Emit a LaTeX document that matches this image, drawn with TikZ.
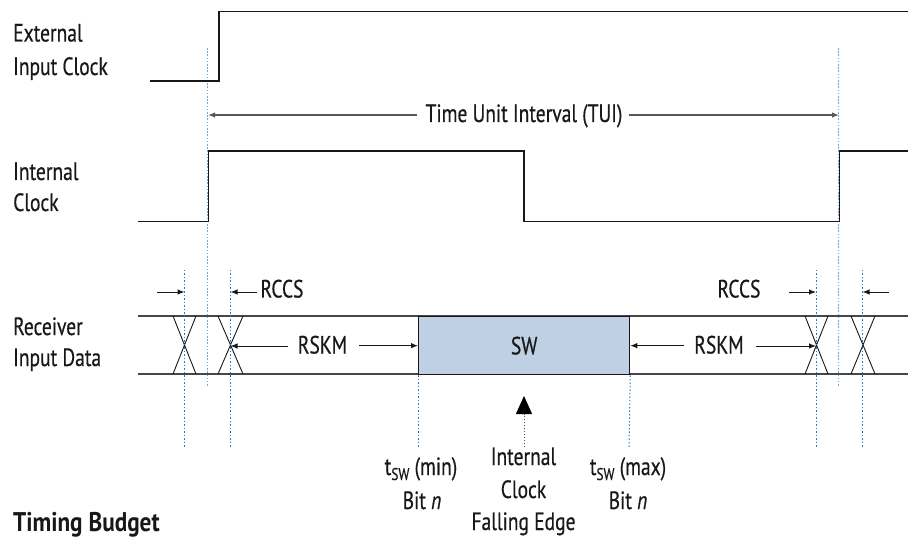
\documentclass[tikz,border=0pt]{standalone}
\usepackage{fontspec}
\setmainfont[FakeStretch=0.78,FakeBold=0.5]{PT Sans}
\newfontfamily\tbfont[FakeStretch=0.86]{PT Sans}
\usetikzlibrary{arrows.meta}
\definecolor{swfill}{HTML}{BFCFE4}
\definecolor{lblue}{HTML}{6FA8D0}
\definecolor{dblue}{HTML}{2F78BE}
\definecolor{ink}{HTML}{1A1718}
\newcommand{\tsw}{t\raisebox{-5pt}{\fontsize{17}{17}\selectfont SW}}
\begin{document}
\begin{tikzpicture}[x=1pt,y=-1pt,
  lbl/.style={font=\fontsize{25}{30}\selectfont, inner sep=0pt, text=ink},
  side/.style={lbl, anchor=base west},
  sig/.style={draw=ink, line width=1.3pt},
  bus/.style={draw=black!72, line width=1.3pt},
  cross/.style={draw=ink, line width=0.9pt},
  tuiguide/.style={draw=lblue, line width=1.6pt, dash pattern=on 1.6pt off 1.6pt},
  edgeguide/.style={draw=dblue, line width=1pt, dash pattern=on 1.5pt off 2pt},
  dimarrow/.style={-{Latex[length=7pt,width=5.5pt]}, line width=1pt, draw=ink},
  tuiarrow/.style={-{Latex[length=7pt,width=5.5pt]}, line width=1.3pt, draw=black!65},
]
\useasboundingbox (0,0) rectangle (908,540);

% ---------- left labels ----------
\node[side] (ext1) at (13,41.5) {External};
\node[side] (ext2) at (13,75) {Input Clock};
\node[side] (int1) at (13,180) {Internal};
\node[side] (int2) at (13,211) {Clock};
\node[side] (rcv1) at (13,335) {Receiver};
\node[side] (rcv2) at (13,366) {Input Data};
\node[side, font=\tbfont\fontsize{27}{30}\selectfont\bfseries] (tb) at (13,531) {Timing Budget};

% ---------- TUI guides ----------
\coordinate (tuiL) at (208,115);
\coordinate (tuiR) at (839,115);
\draw[tuiguide] (207.5,48) -- (207.5,386);
\draw[tuiguide] (838.5,48) -- (838.5,386);

% ---------- clocks ----------
\draw[sig] (150,81) -- (219,81) -- (219,11.5) -- (908,11.5);
\draw[sig] (138,221.5) -- (208.5,221.5) -- (208.5,151) -- (524,151) -- (524,221.5)
           -- (839.5,221.5) -- (839.5,151) -- (908,151);

\node[lbl, anchor=base] (tui) at (524,122) {Time Unit Interval (TUI)};
\draw[tuiarrow] ([xshift=-8pt]tui.west |- tuiL) -- (tuiL);
\draw[tuiarrow] ([xshift=6pt]tui.east |- tuiR) -- (tuiR);

% ---------- data bus ----------
\draw[bus] (138,316) -- (908,316);
\draw[bus] (138,374) -- (908,374);

\draw[cross] (173,316) -- (196,374) (196,316) -- (173,374);
\draw[cross] (218,316) -- (243,374) (243,316) -- (218,374);
\draw[cross] (805,316) -- (828,374) (828,316) -- (805,374);
\draw[cross] (851,316) -- (875,374) (875,316) -- (851,374);

\coordinate (c1) at (184.5,346);
\coordinate (c2) at (230.5,346);
\coordinate (c3) at (816,346);
\coordinate (c4) at (862.5,346);

\node[lbl, draw=ink, line width=1.3pt, fill=swfill, minimum width=211pt,
      minimum height=58pt, anchor=north west] (sw) at (418,316) {SW};

% ---------- edge guides ----------
\draw[edgeguide] (184.5,270) -- (184.5,447);
\draw[edgeguide] (230.5,270) -- (230.5,447);
\draw[edgeguide] (816,270) -- (816,447);
\draw[edgeguide] (862.5,270) -- (862.5,447);
\draw[edgeguide] (sw.south west) -- (418,447);
\draw[edgeguide] (sw.south east) -- (629,447);

% ---------- RCCS ----------
\coordinate (r1) at (184.5,292);
\coordinate (r2) at (230.5,292);
\coordinate (r3) at (816,292);
\coordinate (r4) at (862.5,292);
\coordinate (r1s) at (157,292);
\coordinate (r4s) at (889,292);
\node[lbl, anchor=base] (rccsL) at (282,297.5) {RCCS};
\node[lbl, anchor=base] (rccsR) at (739,297.5) {RCCS};
\draw[dimarrow] (r1s) -- (r1);
\draw[dimarrow] ([xshift=-3pt]rccsL.west |- r2) -- (r2);
\draw[dimarrow] ([xshift=28pt]rccsR.east |- r3) -- (r3);
\draw[dimarrow] (r4s) -- (r4);

% ---------- RSKM ----------
\node[lbl, anchor=base] (rskmL) at (322.5,353.5) {RSKM};
\node[lbl, anchor=base] (rskmR) at (719,353.5) {RSKM};
\draw[dimarrow] ([xshift=-10pt]rskmL.west |- c2) -- (c2);
\draw[dimarrow] ([xshift=12pt]rskmL.east |- sw.west) -- (sw.west);
\draw[dimarrow] ([xshift=-10pt]rskmR.west |- sw.east) -- (sw.east);
\draw[dimarrow] ([xshift=12pt]rskmR.east |- c3) -- (c3);

% ---------- falling edge arrow ----------
\coordinate (fe) at (524,447);
\coordinate (fetip) at (524,396);
\draw[line width=1pt, draw=black!70, dash pattern=on 1.5pt off 1.5pt,
      -{Triangle[length=18pt,width=16pt,fill=black,color=black]}] (fe) -- (fetip);

% ---------- bottom labels ----------
\node[lbl, anchor=base] (tmin) at (421,475) {\tsw{} (min)};
\node[lbl, anchor=base] (bmin) at (422,509) {Bit \textit{n}};
\node[lbl, anchor=base] (fe1) at (523.5,465) {Internal};
\node[lbl, anchor=base] (fe2) at (523.5,498) {Clock};
\node[lbl, anchor=base] (fe3) at (523.5,530) {Falling Edge};
\node[lbl, anchor=base] (tmax) at (628,475) {\tsw{} (max)};
\node[lbl, anchor=base] (bmax) at (628,509) {Bit \textit{n}};
\end{tikzpicture}
\end{document}
